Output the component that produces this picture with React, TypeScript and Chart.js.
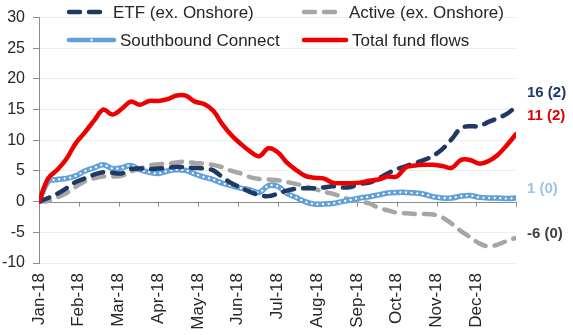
import React, { useEffect, useRef } from 'react';
import { Chart, registerables } from 'chart.js';

Chart.register(...registerables);

const monthLabels = ['Jan-18', 'Feb-18', 'Mar-18', 'Apr-18', 'May-18', 'Jun-18', 'Jul-18', 'Aug-18', 'Sep-18', 'Oct-18', 'Nov-18', 'Dec-18'];
const weeksPerYear = 52;

const etf = [0, 0.6, 1.3, 2.2, 3.2, 3.8, 4.4, 4.8, 4.7, 4.6, 5.3, 5.4, 5.3, 5.4, 5.5, 5.7, 5.6, 5.5, 5.4, 5.1, 4.0, 3.0, 2.3, 1.6, 1.1, 0.9, 1.3, 1.8, 2.1, 2.2, 2.2, 2.3, 2.5, 2.3, 2.4, 2.9, 3.1, 3.8, 4.6, 5.3, 5.8, 6.3, 6.8, 7.5, 8.6, 10.2, 12.0, 12.3, 12.3, 13.0, 13.6, 14.3, 15.5];
const active = [0, 0.1, 0.7, 1.4, 2.4, 3.3, 3.8, 4.1, 4.1, 4.2, 4.9, 5.4, 5.9, 6.1, 6.2, 6.4, 6.5, 6.3, 6.2, 6.0, 5.6, 5.0, 4.6, 4.0, 3.7, 3.6, 3.5, 3.2, 2.9, 2.5, 2.1, 1.6, 1.3, 0.8, 0.3, 0.0, -0.3, -1.0, -1.4, -1.8, -1.9, -2.0, -2.0, -2.1, -2.6, -3.6, -4.8, -5.8, -6.8, -7.3, -7.0, -6.4, -5.9];
const southbound = [0, 3.3, 3.6, 3.8, 4.2, 5.0, 5.5, 6.0, 5.4, 5.5, 5.9, 5.2, 4.8, 4.6, 5.0, 5.2, 5.1, 4.5, 4.0, 3.6, 3.0, 2.6, 2.2, 1.9, 1.5, 2.6, 2.5, 1.4, 0.7, 0.0, -0.4, -0.4, -0.3, 0.0, 0.3, 0.6, 0.8, 1.1, 1.4, 1.5, 1.5, 1.4, 1.2, 0.8, 0.6, 0.6, 0.9, 1.0, 0.7, 0.6, 0.6, 0.5, 0.6];
const total = [0, 3.8, 5.2, 7.0, 9.5, 11.3, 13.2, 15.0, 14.2, 15.1, 16.3, 15.8, 16.4, 16.4, 16.7, 17.3, 17.3, 16.3, 15.9, 14.8, 12.6, 10.8, 9.4, 8.2, 7.4, 8.7, 8.1, 6.4, 5.2, 4.2, 3.9, 3.8, 3.1, 3.0, 3.0, 3.1, 3.4, 3.6, 4.1, 4.1, 5.6, 5.9, 6.0, 6.0, 5.8, 5.5, 6.8, 6.8, 6.2, 6.6, 7.6, 9.2, 11.0];

const endLabelTexts = ['16 (2)', '11 (2)', '1 (0)', '-6 (0)'];
const endLabelColors = ['#1F3864', '#E00000', '#9DC3E6', '#404040'];
const endLabelValues = [17.7, 14.0, 2.1, -5.2];

const NAVY = '#1F3864';
const GRAY = '#A6A6A6';
const BLUE = '#62A0D8';
const RED = '#EE0000';
const FONT = '"Liberation Sans", Arial, sans-serif';

function toPoints(values: number[]) {
  return values.map((v, i) => ({ x: (i * 12) / weeksPerYear, y: v }));
}

const overlayPlugin = {
  id: 'overlay',
  beforeDatasetsDraw(chart: any) {
    const { ctx, chartArea, scales } = chart;
    const y0 = scales.y.getPixelForValue(0);
    ctx.save();
    ctx.strokeStyle = '#8C8C8C';
    ctx.lineWidth = 1;
    ctx.beginPath();
    ctx.moveTo(chartArea.left, Math.round(y0) + 0.5);
    ctx.lineTo(chartArea.right, Math.round(y0) + 0.5);
    for (let m = 0; m <= 12; m++) {
      const x = Math.round(scales.x.getPixelForValue(m)) + 0.5;
      ctx.moveTo(x, y0);
      ctx.lineTo(x, y0 + 5);
    }
    ctx.stroke();
    ctx.restore();
  },
  afterDraw(chart: any) {
    const { ctx, chartArea, scales } = chart;
    ctx.save();
    ctx.font = `bold 15px ${FONT}`;
    ctx.textBaseline = 'middle';
    ctx.textAlign = 'left';
    endLabelTexts.forEach((t, i) => {
      ctx.fillStyle = endLabelColors[i];
      ctx.fillText(t, chartArea.right + 11, scales.y.getPixelForValue(endLabelValues[i]));
    });
    const rows = [
      { x: 67, y: 12, w: 40, color: NAVY, dash: [11, 9], text: 'ETF (ex. Onshore)', dots: false },
      { x: 67, y: 40, w: 47, color: BLUE, dash: [], text: 'Southbound Connect', dots: true },
      { x: 302, y: 12, w: 41, color: GRAY, dash: [11, 9], text: 'Active (ex. Onshore)', dots: false },
      { x: 302, y: 40, w: 44, color: RED, dash: [], text: 'Total fund flows', dots: false },
    ];
    rows.forEach((r) => {
      ctx.strokeStyle = r.color;
      ctx.lineWidth = 4.5;
      ctx.lineCap = 'round';
      ctx.setLineDash(r.dash);
      ctx.beginPath();
      ctx.moveTo(r.x + 2, r.y);
      ctx.lineTo(r.x + r.w, r.y);
      ctx.stroke();
      ctx.setLineDash([]);
      if (r.dots) {
        ctx.fillStyle = '#FFFFFF';
        ctx.beginPath();
        ctx.arc(r.x + r.w / 2 + 1, r.y, 1.3, 0, Math.PI * 2);
        ctx.fill();
      }
      ctx.fillStyle = '#262626';
      ctx.font = `17px ${FONT}`;
      ctx.textBaseline = 'middle';
      ctx.fillText(r.text, r.x + r.w + 6, r.y + 1);
    });
    ctx.restore();
  },
};

export default function App() {
  const canvasRef = useRef<HTMLCanvasElement | null>(null);

  useEffect(() => {
    const canvas = canvasRef.current;
    if (!canvas) return;
    const lineBase = { pointRadius: 0, tension: 0.35, fill: false, borderJoinStyle: 'round' as const };
    const chart = new Chart(canvas, {
      type: 'line',
      data: {
        datasets: [
          { ...lineBase, label: 'Total fund flows', data: toPoints(total), borderColor: RED, borderWidth: 4.5, borderCapStyle: 'round', order: 1 },
          { ...lineBase, label: 'ETF (ex. Onshore)', data: toPoints(etf), borderColor: NAVY, borderWidth: 4.5, borderDash: [11, 9], borderCapStyle: 'round', order: 2 },
          { ...lineBase, label: 'Southbound dots', data: toPoints(southbound), borderColor: '#FFFFFF', borderWidth: 2.2, borderDash: [0.1, 5.5], borderCapStyle: 'round', order: 3 },
          { ...lineBase, label: 'Southbound Connect', data: toPoints(southbound), borderColor: BLUE, borderWidth: 5.5, borderCapStyle: 'round', order: 4 },
          { ...lineBase, label: 'Active (ex. Onshore)', data: toPoints(active), borderColor: GRAY, borderWidth: 4.5, borderDash: [11, 9], borderCapStyle: 'round', order: 5 },
        ],
      },
      options: {
        responsive: false,
        animation: false,
        devicePixelRatio: 1,
        layout: { padding: { top: 13, right: 57, left: 0, bottom: 0 } },
        plugins: { legend: { display: false }, tooltip: { enabled: false } },
        scales: {
          x: {
            type: 'linear',
            min: 0,
            max: 12,
            afterFit: (s: any) => { s.height = 72; },
            border: { display: false },
            grid: { display: false, drawTicks: false },
            ticks: {
              stepSize: 1,
              autoSkip: false,
              minRotation: 90,
              maxRotation: 90,
              padding: 10,
              color: '#262626',
              font: { family: FONT, size: 17 },
              callback: (v: any) => monthLabels[Number(v)] ?? '',
            },
          },
          y: {
            min: -10,
            max: 30,
            afterFit: (s: any) => { s.width = 39; },
            border: { display: true, color: '#8C8C8C' },
            grid: {
              color: (c: any) => (c.tick && c.tick.value === 0 ? 'rgba(0,0,0,0)' : '#EDEDED'),
              tickColor: '#8C8C8C',
              tickLength: 6,
            },
            ticks: {
              stepSize: 5,
              padding: 8,
              color: '#262626',
              font: { family: FONT, size: 16 },
            },
          },
        },
      },
      plugins: [overlayPlugin],
    });
    return () => chart.destroy();
  }, []);

  return (
    <div style={{ position: 'absolute', left: 0, top: 0, width: 573, height: 335, background: '#fff' }}>
      <canvas ref={canvasRef} width={573} height={335} />
    </div>
  );
}
